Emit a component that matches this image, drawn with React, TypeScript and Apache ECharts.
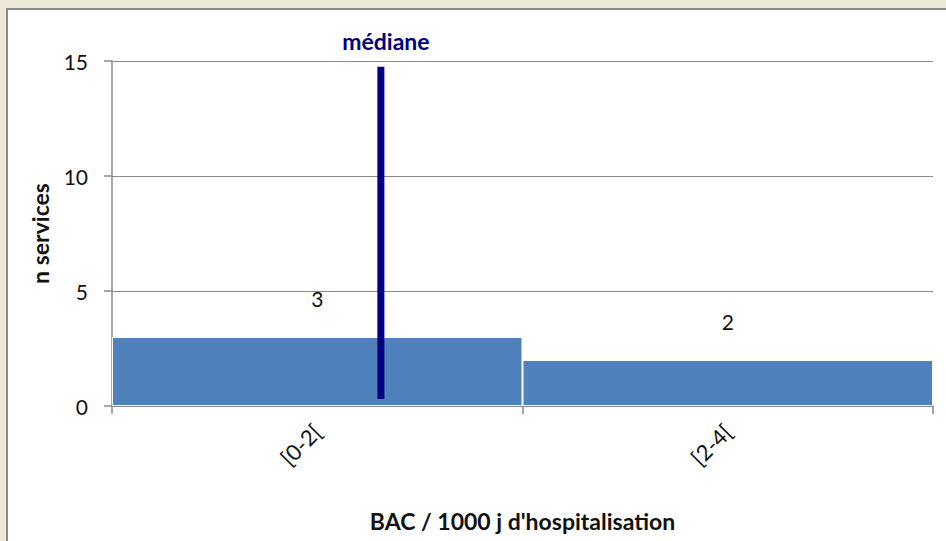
import React, { useEffect, useRef } from "react";
import * as echarts from "echarts";

const categories = ["[0-2[", "[2-4["];
const counts = [3, 2];
const yTicks = [0, 5, 10, 15];
const medianValue = 1.31;
const medianSpan = [0.3, 14.75];
const yAxisTitle = "n services";
const xAxisTitle = "BAC / 1000 j d'hospitalisation";
const medianLabel = "médiane";

const FONT = "Lato, 'Noto Sans', sans-serif";
const FS = 21;
const FT = 23;

export default function App() {
  const ref = useRef<HTMLDivElement>(null);
  useEffect(() => {
    document.body.style.margin = "0";
    const chart = echarts.init(ref.current!, undefined, { renderer: "svg" });
    chart.setOption({
      animation: false,
      backgroundColor: "#ECE9D8",
      graphic: [
        {
          type: "rect",
          shape: { x: 7, y: 9, width: 960, height: 560 },
          style: { fill: "#ffffff", stroke: "#8a8a8a", lineWidth: 2 },
          z: -10,
        },
      ],
      grid: { left: 112, right: 13, top: 61, bottom: 135 },
      xAxis: [
        {
          type: "category",
          data: categories,
          axisLine: { lineStyle: { color: "#888", width: 1.5 } },
          axisTick: { show: true, length: 8, lineStyle: { color: "#888", width: 1.5 } },
          axisLabel: { rotate: 45, margin: 22, fontSize: 22, color: "#111", fontFamily: FONT },
          name: xAxisTitle,
          nameLocation: "middle",
          nameGap: 103,
          nameTextStyle: { fontSize: FT, fontWeight: "bold", color: "#111", fontFamily: FONT },
        },
        { type: "value", min: 0, max: 4, show: false },
      ],
      yAxis: {
        type: "value",
        min: 0,
        max: yTicks[yTicks.length - 1],
        interval: yTicks[1] - yTicks[0],
        axisLine: { show: true, lineStyle: { color: "#888", width: 1.5 } },
        axisTick: { show: true, length: 8, lineStyle: { color: "#888", width: 1.5 } },
        splitLine: { lineStyle: { color: "#888", width: 1 } },
        axisLabel: { margin: 24, fontSize: FS, color: "#111", fontFamily: FONT },
        name: yAxisTitle,
        nameLocation: "middle",
        nameGap: 61,
        nameTextStyle: { fontSize: FT, fontWeight: "bold", color: "#111", fontFamily: FONT },
      },
      series: [
        {
          type: "bar",
          data: counts,
          barCategoryGap: "0%",
          itemStyle: { color: "#4F81BD", borderColor: "#ffffff", borderWidth: 1 },
          label: {
            show: true,
            position: "top",
            distance: 28,
            fontSize: FS,
            color: "#111",
            fontFamily: FONT,
          },
        },
        {
          type: "line",
          xAxisIndex: 1,
          symbol: "none",
          data: [
            [medianValue, medianSpan[0]],
            [medianValue, medianSpan[1]],
          ],
          lineStyle: { color: "#000080", width: 7, cap: "butt" },
        },
        {
          type: "scatter",
          xAxisIndex: 1,
          symbolSize: 1,
          itemStyle: { color: "rgba(0,0,0,0)", opacity: 1 },
          data: [[medianValue, medianSpan[1]]],
          label: {
            show: true,
            formatter: medianLabel,
            position: "top",
            distance: 14,
            offset: [5, 0],
            fontSize: FT,
            fontWeight: "bold",
            color: "#000080",
            fontFamily: FONT,
          },
        },
      ],
    });
    return () => chart.dispose();
  }, []);
  return <div ref={ref} style={{ width: 946, height: 541 }} />;
}
